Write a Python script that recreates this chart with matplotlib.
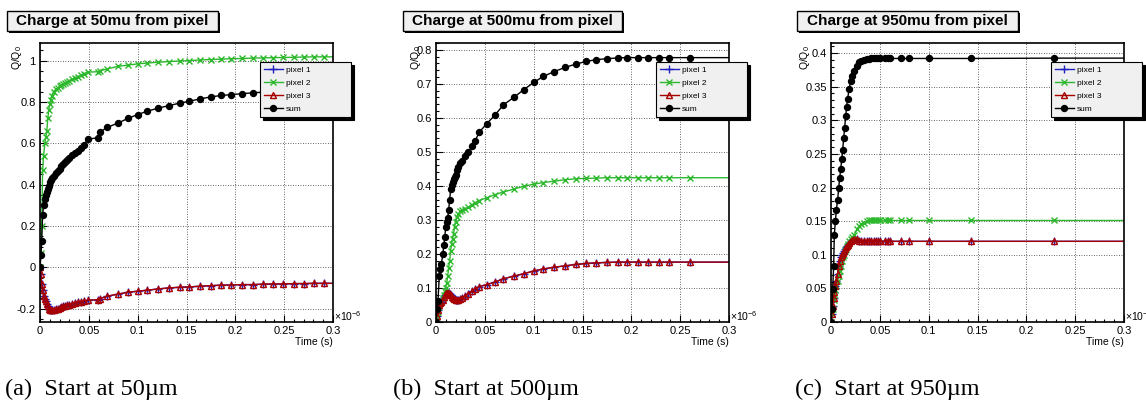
import matplotlib
matplotlib.use("Agg")
import matplotlib.pyplot as plt
from matplotlib.patches import Rectangle
from matplotlib.ticker import MultipleLocator, FuncFormatter

# Time axis is in units of 1e-6 s (the "x10^-6" multiplier is drawn as text)

# Panel (a) - start at 50 mu
t_a = [0, 0.001, 0.0017, 0.0027, 0.0037, 0.005, 0.006, 0.007, 0.008, 0.009,
       0.010, 0.011, 0.012, 0.014, 0.016, 0.018, 0.020, 0.022, 0.024, 0.026,
       0.028, 0.030, 0.033, 0.036, 0.039, 0.042, 0.045, 0.049, 0.059, 0.061,
       0.069, 0.080, 0.090, 0.100, 0.110, 0.121, 0.132, 0.143, 0.153, 0.164,
       0.175, 0.185, 0.196, 0.207, 0.218, 0.228, 0.239, 0.249, 0.260, 0.270,
       0.281, 0.291, 0.4]
pix2_a = [0, 0.07, 0.2, 0.47, 0.54, 0.6, 0.63, 0.66, 0.72, 0.76,
          0.79, 0.81, 0.83, 0.85, 0.86, 0.865, 0.875, 0.88, 0.885, 0.89,
          0.895, 0.90, 0.91, 0.915, 0.92, 0.93, 0.935, 0.944, 0.946, 0.95,
          0.96, 0.972, 0.978, 0.984, 0.988, 0.992, 0.995, 0.998, 1.0, 1.003,
          1.005, 1.007, 1.009, 1.01, 1.012, 1.013, 1.014, 1.015, 1.016, 1.017,
          1.018, 1.018, 1.019]
pix3_a = [0, -0.035, -0.08, -0.11, -0.14, -0.155, -0.165, -0.18, -0.19, -0.2,
          -0.205, -0.208, -0.208, -0.206, -0.204, -0.2, -0.197, -0.194, -0.19, -0.187,
          -0.185, -0.182, -0.177, -0.173, -0.17, -0.167, -0.164, -0.16, -0.157, -0.152,
          -0.14, -0.13, -0.121, -0.116, -0.111, -0.105, -0.1, -0.097, -0.095, -0.092,
          -0.089, -0.087, -0.086, -0.084, -0.084, -0.082, -0.081, -0.081, -0.079, -0.079,
          -0.078, -0.078, -0.077]
pix1_a = list(pix3_a)  # pixel 1 sits exactly under pixel 3
sum_a = [0, 0.06, 0.125, 0.255, 0.3, 0.33, 0.35, 0.365, 0.38, 0.395,
         0.41, 0.42, 0.43, 0.44, 0.455, 0.465, 0.475, 0.49, 0.5, 0.51,
         0.52, 0.53, 0.545, 0.552, 0.56, 0.575, 0.59, 0.62, 0.626, 0.653,
         0.677, 0.698, 0.72, 0.739, 0.755, 0.77, 0.782, 0.794, 0.803, 0.815,
         0.824, 0.831, 0.835, 0.84, 0.844, 0.847, 0.85, 0.852, 0.854, 0.855,
         0.857, 0.858, 0.859]

# Panel (b) - start at 500 mu
t_b = [0, 0.001, 0.002, 0.0034, 0.0045, 0.0055, 0.007, 0.008, 0.009, 0.010,
       0.011, 0.012, 0.013, 0.014, 0.015, 0.016, 0.017, 0.018, 0.019, 0.020,
       0.0215, 0.023, 0.025, 0.027, 0.030, 0.033, 0.037, 0.040, 0.044, 0.052,
       0.060, 0.069, 0.080, 0.090, 0.100, 0.110, 0.121, 0.132, 0.143, 0.154,
       0.164, 0.175, 0.186, 0.196, 0.207, 0.217, 0.228, 0.239, 0.260, 0.4]
pix2_b = [0, 0.015, 0.03, 0.047, 0.055, 0.062, 0.072, 0.08, 0.09, 0.1,
          0.115, 0.135, 0.16, 0.18, 0.21, 0.23, 0.245, 0.26, 0.28, 0.295,
          0.308, 0.318, 0.325, 0.33, 0.333, 0.337, 0.345, 0.351, 0.357, 0.365,
          0.374, 0.382, 0.391, 0.399, 0.405, 0.41, 0.414, 0.418, 0.421, 0.422,
          0.423, 0.424, 0.424, 0.424, 0.424, 0.424, 0.424, 0.424, 0.424, 0.424]
pix3_b = [0, 0.018, 0.035, 0.05, 0.055, 0.058, 0.065, 0.074, 0.08, 0.085,
          0.086, 0.086, 0.084, 0.081, 0.078, 0.074, 0.071, 0.069, 0.067, 0.066,
          0.065, 0.066, 0.068, 0.071, 0.077, 0.083, 0.09, 0.097, 0.104, 0.11,
          0.117, 0.127, 0.135, 0.142, 0.15, 0.156, 0.161, 0.165, 0.169, 0.172,
          0.174, 0.175, 0.176, 0.176, 0.176, 0.176, 0.176, 0.176, 0.176, 0.176]
pix1_b = list(pix3_b)
sum_b = [0, 0.037, 0.062, 0.135, 0.155, 0.17, 0.2, 0.225, 0.25, 0.28,
         0.293, 0.306, 0.33, 0.36, 0.39, 0.404, 0.412, 0.42, 0.427, 0.433,
         0.448, 0.456, 0.466, 0.474, 0.487, 0.5, 0.516, 0.531, 0.557, 0.583,
         0.607, 0.638, 0.661, 0.683, 0.704, 0.722, 0.736, 0.748, 0.758, 0.766,
         0.771, 0.774, 0.776, 0.777, 0.777, 0.777, 0.777, 0.777, 0.777, 0.777]

# Panel (c) - start at 950 mu
t_c = [0, 0.001, 0.0017, 0.0027, 0.0034, 0.0045, 0.0055, 0.0068, 0.0079, 0.0089,
       0.0099, 0.011, 0.012, 0.013, 0.014, 0.015, 0.016, 0.017, 0.0185, 0.020,
       0.022, 0.024, 0.0266, 0.029, 0.031, 0.034, 0.0365, 0.0386, 0.041, 0.0437,
       0.046, 0.048, 0.050, 0.055, 0.058, 0.060, 0.072, 0.080, 0.100, 0.143,
       0.228, 0.4]
pix2_c = [0, 0.012, 0.019, 0.032, 0.041, 0.048, 0.053, 0.061, 0.068, 0.076,
          0.083, 0.09, 0.096, 0.1, 0.105, 0.109, 0.113, 0.116, 0.12, 0.123,
          0.127, 0.13, 0.138, 0.143, 0.146, 0.148, 0.15, 0.151, 0.151, 0.151,
          0.151, 0.151, 0.151, 0.151, 0.151, 0.151, 0.151, 0.151, 0.151, 0.151,
          0.151, 0.151]
pix3_c = [0, 0.012, 0.024, 0.035, 0.044, 0.053, 0.061, 0.072, 0.083, 0.09,
          0.096, 0.1, 0.103, 0.105, 0.108, 0.111, 0.113, 0.115, 0.118, 0.12,
          0.122, 0.123, 0.123, 0.121, 0.12, 0.12, 0.12, 0.12, 0.12, 0.12,
          0.12, 0.12, 0.12, 0.12, 0.12, 0.12, 0.12, 0.12, 0.12, 0.12,
          0.12, 0.12]
pix1_c = list(pix3_c)
sum_c = [0, 0.019, 0.049, 0.083, 0.13, 0.15, 0.167, 0.182, 0.2, 0.214,
         0.227, 0.242, 0.256, 0.274, 0.289, 0.306, 0.32, 0.332, 0.346, 0.358,
         0.366, 0.374, 0.381, 0.386, 0.388, 0.39, 0.391, 0.391, 0.392, 0.392,
         0.392, 0.392, 0.392, 0.392, 0.392, 0.392, 0.392, 0.392, 0.392, 0.392,
         0.3925, 0.3925]

titles = ["Charge at 50mu from pixel", "Charge at 500mu from pixel",
          "Charge at 950mu from pixel"]
captions = ["(a)  Start at 50\u00b5m", "(b)  Start at 500\u00b5m",
            "(c)  Start at 950\u00b5m"]
series_labels = ["pixel 1", "pixel 2", "pixel 3", "sum"]

W, H = 1146, 401

plt.rcParams["font.family"] = ["Liberation Sans", "DejaVu Sans"]
plt.rcParams["mathtext.fontset"] = "custom"
plt.rcParams["mathtext.rm"] = "Liberation Sans"
plt.rcParams["mathtext.it"] = "Liberation Sans:italic"


def fx(x):
    return x / W


def fy(y):
    return 1 - y / H


def tick_fmt(v, _pos):
    return f"{round(v, 6) + 0:g}"


def draw_title_box(fig, x0, x1, y0, y1, text):
    # ROOT-style title pave with a drop shadow
    shadow = Rectangle((fx(x0 + 2), fy(y1 + 2)), fx(x1 - x0), (y1 - y0) / H,
                       transform=fig.transFigure, facecolor="black",
                       edgecolor="none")
    box = Rectangle((fx(x0), fy(y1)), fx(x1 - x0), (y1 - y0) / H,
                    transform=fig.transFigure, facecolor="#f0f0f0",
                    edgecolor="black", linewidth=1)
    fig.patches.extend([shadow, box])
    fig.text(fx((x0 + x1) / 2), fy((y0 + y1) / 2 + 0.5), text, ha="center",
             va="center", fontsize=11, fontweight="bold")


fig = plt.figure(figsize=(W / 100, H / 100), dpi=100)

panels = [
    # data, axes left px, ylim, major, minor, ylabel x px, title box x, caption x
    ((t_a, pix1_a, pix2_a, pix3_a, sum_a), 40, (-0.265, 1.085), 0.2, 0.05, 17, (7, 218), 5),
    ((t_b, pix1_b, pix2_b, pix3_b, sum_b), 436, (0, 0.82), 0.1, 0.02, 416, (403, 622), 393),
    ((t_c, pix1_c, pix2_c, pix3_c, sum_c), 831, (0, 0.415), 0.05, 0.01, 805, (797, 1018), 795),
]

for i, (data, left, ylim, ymaj, ymin, ylab_x, tbox, cap_x) in enumerate(panels):
    t, p1, p2, p3, s = data
    ax = fig.add_axes([fx(left), fy(322), 293 / W, 279 / H])

    h1, = ax.plot(t, p1, color="#2020c0", lw=1, marker="+", ms=5.5, mew=1)
    h2, = ax.plot(t, p2, color="#2db82d", lw=1, marker="x", ms=5, mew=1)
    h3, = ax.plot(t, p3, color="#a80000", lw=1, marker="^", ms=5, mew=1,
                  mfc="none")
    h4, = ax.plot(t, s, color="black", lw=1, marker="o", ms=4.3)

    ax.set_xlim(0, 0.3)
    ax.set_ylim(*ylim)
    ax.xaxis.set_major_locator(MultipleLocator(0.05))
    ax.xaxis.set_minor_locator(MultipleLocator(0.01))
    ax.yaxis.set_major_locator(MultipleLocator(ymaj))
    ax.yaxis.set_minor_locator(MultipleLocator(ymin))
    ax.xaxis.set_major_formatter(FuncFormatter(tick_fmt))
    ax.yaxis.set_major_formatter(FuncFormatter(tick_fmt))
    ax.tick_params(which="both", direction="in", top=False, right=False,
                   labelsize=8, width=0.8)
    ax.tick_params(which="major", length=5, pad=3)
    ax.tick_params(which="minor", length=2.5)
    ax.grid(True, which="major", color="#333333", lw=0.6, ls=(0, (1, 2)))
    for sp in ax.spines.values():
        sp.set_linewidth(1.2)

    right = left + 293
    leg = ax.legend([h1, h2, h3, h4], series_labels, loc="upper left",
                    bbox_to_anchor=(fx(right - 73), fy(114), 91 / W, 52 / H),
                    bbox_transform=fig.transFigure, mode="expand",
                    fontsize=6, fancybox=False, framealpha=1,
                    facecolor="#f0f0f0", edgecolor="black",
                    shadow={"color": "black", "alpha": 1},
                    borderaxespad=0, handlelength=2.3, borderpad=0.45,
                    labelspacing=0.65, handletextpad=0.4)
    leg.get_frame().set_linewidth(0.8)

    # axis titles and exponent, placed the way ROOT does it
    fig.text(fx(ylab_x), fy(45), "Q/Q$_0$", rotation=90, ha="center",
             va="top", fontsize=7.5)
    fig.text(fx(right), fy(342), "Time (s)", ha="right", va="center",
             fontsize=7.5)
    fig.text(fx(right + 1), fy(316), "\u00d710$^{-6}$", ha="left",
             va="center", fontsize=7.5)

    draw_title_box(fig, tbox[0], tbox[1], 11, 31, titles[i])
    fig.text(fx(cap_x), fy(389), captions[i], ha="left", va="center",
             fontsize=17.5, family=["Liberation Serif", "DejaVu Serif"])

fig.savefig("out.png", dpi=100)
